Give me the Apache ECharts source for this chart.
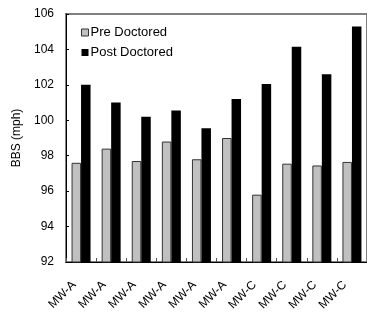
<!DOCTYPE html>
<html>
<head>
<meta charset="utf-8">
<script src="https://cdn.jsdelivr.net/npm/echarts@6/dist/echarts.min.js"></script>
<style>html,body{margin:0;padding:0;background:#fff;}#c{width:367px;height:314px;}</style>
</head>
<body>
<div id="c"></div>
<script>
const categories = ['MW-A','MW-A','MW-A','MW-A','MW-A','MW-A','MW-C','MW-C','MW-C','MW-C'];
const preDoctored = [97.6, 98.4, 97.7, 98.8, 97.8, 99.0, 95.8, 97.55, 97.45, 97.65];
const postDoctored = [102.0, 101.0, 100.2, 100.55, 99.55, 101.2, 102.05, 104.15, 102.6, 105.3];
const seriesNames = ['Pre Doctored', 'Post Doctored'];
const yMin = 92, yMax = 106, yStep = 2;

const chart = echarts.init(document.getElementById('c'), null, {renderer: 'canvas'});
const FONT = 'Liberation Sans, Arial, sans-serif';
chart.setOption({
  animation: false,
  backgroundColor: '#fff',
  textStyle: {fontFamily: FONT},
  grid: {left: 66, top: 14, right: -6, bottom: 52, show: true, borderColor: '#808080', borderWidth: 2, backgroundColor: 'transparent'},
  legend: {
    orient: 'vertical', left: 76, top: 21, itemWidth: 7, itemHeight: 7, itemGap: 7,
    textStyle: {fontSize: 13, color: '#000', fontFamily: FONT, padding: [0,0,0,-3]},
    data: [
      {name: seriesNames[0], icon: 'rect', itemStyle: {color: '#c0c0c0', borderColor: '#333', borderWidth: 1}},
      {name: seriesNames[1], icon: 'rect', itemStyle: {color: '#000'}}
    ]
  },
  xAxis: {
    type: 'category', data: categories,
    axisLine: {lineStyle: {color: '#000', width: 1}},
    axisTick: {show: true, inside: true, length: 4, lineStyle: {color: '#555'}},
    axisLabel: {rotate: 45, fontSize: 12, color: '#000', margin: 14, padding: [0, 10, 0, 0], fontFamily: FONT, interval: 0},
    splitLine: {show: false}
  },
  yAxis: {
    type: 'value', min: yMin, max: yMax, interval: yStep,
    name: 'BBS (mph)', nameLocation: 'middle', nameGap: 35,
    nameTextStyle: {fontSize: 12, color: '#000', fontFamily: FONT},
    axisLine: {show: true, lineStyle: {color: '#000', width: 1}},
    axisTick: {show: true, inside: true, length: 3, lineStyle: {color: '#000'}},
    axisLabel: {fontSize: 12, color: '#000', margin: 12, fontFamily: FONT},
    splitLine: {show: false}
  },
  series: [
    {name: seriesNames[0], type: 'bar', data: preDoctored, barWidth: 9.5, barGap: '0%',
     itemStyle: {color: '#c0c0c0', borderColor: '#333', borderWidth: 1}},
    {name: seriesNames[1], type: 'bar', data: postDoctored, barWidth: 9.5, barGap: '0%',
     itemStyle: {color: '#000'}}
  ]
});
</script>
</body>
</html>
